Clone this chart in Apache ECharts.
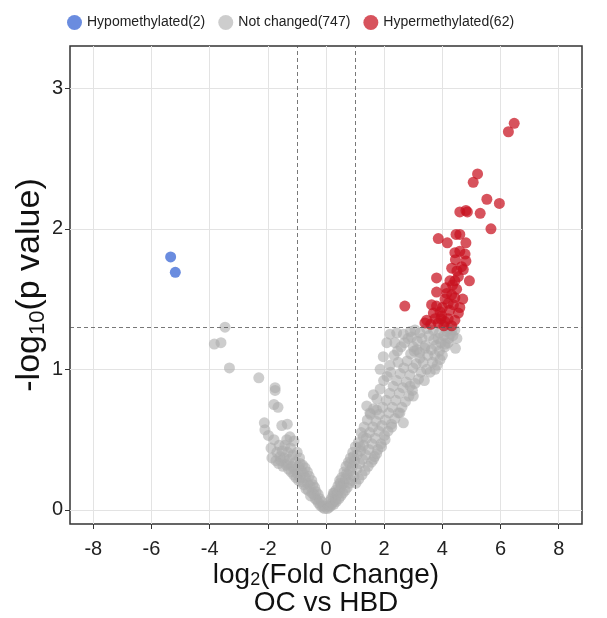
<!DOCTYPE html>
<html>
<head>
<meta charset="utf-8">
<script src="https://cdn.jsdelivr.net/npm/echarts@6/dist/echarts.min.js"></script>
<style>html,body{margin:0;padding:0;background:#fff}#c{width:607px;height:618px}</style>
</head>
<body>
<div id="c"></div>
<script>
// ---- data ----
const seriesNames = ['Hypomethylated(2)', 'Not changed(747)', 'Hypermethylated(62)'];
const xTicks = [-8, -6, -4, -2, 0, 2, 4, 6, 8];
const yTicks = [0, 1, 2, 3];
const fcCut = [-1, 1];
const pCut = 1.301;

const hypoPoints = [[-5.34, 1.80], [-5.18, 1.69]];

const hyperPoints = [
  [6.47,2.75],[6.27,2.69],[5.21,2.39],[5.06,2.33],[5.53,2.21],[5.96,2.18],[4.60,2.12],[4.81,2.13],
  [4.86,2.12],[5.30,2.11],[5.67,2.00],[3.86,1.93],[4.17,1.90],[4.47,1.96],[4.60,1.96],[4.81,1.90],
  [4.43,1.83],[4.60,1.84],[4.78,1.82],[4.81,1.77],[4.32,1.72],[4.66,1.73],[4.72,1.71],[3.80,1.65],
  [4.26,1.63],[4.43,1.63],[4.55,1.66],[4.93,1.63],[3.80,1.55],[4.15,1.54],[4.32,1.53],[4.49,1.57],
  [4.43,1.51],[3.63,1.46],[3.80,1.45],[4.09,1.50],[4.20,1.47],[4.60,1.44],[4.55,1.40],[2.71,1.45],
  [3.92,1.41],[3.98,1.38],[3.69,1.40],[3.46,1.35],[3.40,1.33],[3.86,1.33],[4.09,1.34],[4.32,1.31],
  [4.43,1.35],[4.00,1.44],[4.25,1.42],[4.38,1.46],[4.12,1.58],[4.35,1.60],[4.50,1.70],[3.95,1.36],
  [3.60,1.32],[4.20,1.36],[4.05,1.31],[4.70,1.50],[4.45,1.78],[3.75,1.36]
];

const grayLeft = [
  [-3.47,1.30],[-3.61,1.19],[-3.84,1.18],[-3.32,1.01],[-2.31,0.94],[-1.75,0.87],[-1.75,0.85],[-1.79,0.75],
  [-1.65,0.73],[-2.12,0.62],[-2.10,0.57],[-1.52,0.60],[-1.33,0.61],[-1.98,0.53],[-1.79,0.50],[-1.89,0.44],
  [-1.35,0.50],[-1.24,0.52],[-1.10,0.49],[-1.72,0.35],[-1.58,0.38],[-1.33,0.33],[-0.99,0.41],[-0.89,0.33],
  [-0.05,0.01],[-0.09,0.03],[-0.12,0.02],[-0.16,0.06],[-0.19,0.03],[-0.22,0.08],[-0.26,0.05],[-0.27,0.11],
  [-0.32,0.07],[-0.34,0.13],[-0.37,0.08],[-0.39,0.16],[-0.42,0.11],[-0.45,0.18],[-0.48,0.12],[-0.49,0.21],
  [-0.53,0.10],[-0.55,0.17],[-0.58,0.24],[-0.61,0.14],[-0.63,0.19],[-0.64,0.27],[-0.69,0.15],[-0.71,0.23],
  [-0.72,0.30],[-0.77,0.18],[-0.79,0.26],[-0.81,0.32],[-0.84,0.20],[-0.86,0.28],[-0.89,0.23],[-0.91,0.37],
  [-0.94,0.21],[-0.96,0.31],[-0.99,0.26],[-1.03,0.23],[-1.05,0.34],[-1.08,0.29],[-1.11,0.25],[-1.14,0.39],
  [-1.17,0.31],[-1.20,0.27],[-1.22,0.44],[-1.26,0.36],[-1.29,0.29],[-1.32,0.41],[-1.37,0.32],[-1.41,0.46],
  [-1.45,0.37],[-1.48,0.31],[-1.51,0.42],[-1.56,0.35],[-1.61,0.46],[-1.63,0.33],[-1.69,0.41],[-1.86,0.37]
];

const grayRight = [
  [2.20,1.25],[2.43,1.26],[2.66,1.25],[2.09,1.19],[2.37,1.19],[3.06,1.28],[3.23,1.26],[3.46,1.29],
  [3.69,1.28],[1.97,1.09],[1.86,1.00],[2.20,1.03],[2.48,1.05],[3.00,1.16],[3.12,1.14],[3.23,1.08],
  [3.40,1.15],[3.92,1.07],[3.75,1.00],[4.09,1.16],[1.63,0.82],[1.40,0.74],[1.51,0.69],[1.74,0.71],
  [3.00,0.81],[2.89,0.88],[2.54,0.69],[2.66,0.62],[2.26,0.59],[2.03,0.50],[1.91,0.45],[1.74,0.40],
  [1.63,0.36],[1.28,0.52],[1.17,0.45],[0.94,0.38],[0.82,0.33],[0.71,0.26],[0.48,0.19],[0.25,0.12],
  [4.33,1.28],[4.20,1.19],[4.43,1.28],[2.90,1.27],[3.90,1.26],[4.20,1.29],[4.45,1.15],[4.50,1.22],
  [0.05,0.01],[0.08,0.03],[0.12,0.02],[0.13,0.06],[0.17,0.03],[0.18,0.08],[0.22,0.05],[0.24,0.10],
  [0.27,0.04],[0.28,0.12],[0.32,0.07],[0.34,0.14],[0.35,0.06],[0.39,0.11],[0.41,0.17],[0.44,0.08],
  [0.46,0.14],[0.47,0.21],[0.51,0.10],[0.53,0.17],[0.54,0.23],[0.58,0.12],[0.61,0.19],[0.62,0.27],
  [0.66,0.14],[0.68,0.22],[0.69,0.31],[0.73,0.16],[0.76,0.25],[0.77,0.34],[0.81,0.19],[0.83,0.28],
  [0.84,0.37],[0.88,0.21],[0.91,0.31],[0.92,0.41],[0.96,0.24],[0.98,0.35],[1.01,0.45],
  [1.03,0.19],[1.06,0.29],[1.07,0.39],[1.11,0.48],[1.13,0.22],[1.16,0.33],[1.19,0.42],[1.21,0.55],
  [1.24,0.25],[1.26,0.36],[1.29,0.46],[1.31,0.59],[1.34,0.28],[1.37,0.39],[1.39,0.51],[1.42,0.64],
  [1.45,0.31],[1.47,0.43],[1.50,0.55],[1.53,0.68],[1.56,0.34],[1.58,0.47],[1.61,0.59],[1.64,0.72],
  [1.67,0.38],[1.69,0.51],[1.72,0.63],[1.75,0.79],[1.78,0.43],[1.81,0.56],[1.83,0.68],[1.86,0.86],
  [1.89,0.47],[1.92,0.60],[1.95,0.73],[1.98,0.92],[2.01,0.53],
  [2.04,0.64],[2.07,0.78],[2.10,0.95],[2.13,0.56],[2.16,0.69],[2.19,0.83],[2.22,0.98],[2.25,0.61],
  [2.28,0.73],[2.31,0.88],[2.34,1.10],[2.37,0.65],[2.40,0.78],[2.43,0.92],[2.46,1.13],[2.49,0.69],
  [2.52,0.83],[2.55,0.97],[2.58,1.16],[2.61,0.73],[2.64,0.87],[2.67,1.01],[2.70,1.19],[2.73,0.77],
  [2.76,0.91],[2.79,1.06],[2.82,1.22],[2.85,0.81],[2.88,0.96],[2.91,1.11],[2.94,1.23],[2.97,0.85],
  [2.99,1.01],
  [3.03,1.13],[3.06,0.90],[3.10,1.04],[3.14,1.20],[3.18,0.93],[3.22,1.12],[3.26,0.98],[3.30,1.22],
  [3.34,1.05],[3.38,0.92],[3.42,1.17],[3.46,1.00],[3.50,1.10],[3.54,1.24],[3.58,0.98],[3.62,1.14],
  [3.66,1.05],[3.70,1.21],[3.74,1.10],[3.78,1.17],[3.82,1.03],[3.86,1.22],[3.90,1.13],[3.95,1.19],
  [4.00,1.10],[4.05,1.24],[4.10,1.18],[4.15,1.27],[4.22,1.22],[4.28,1.25],[4.36,1.24]
];

const grayPoints = grayLeft.concat(grayRight);

// ---- chart ----
const FONT = '"Liberation Sans", Arial, sans-serif';
const chart = echarts.init(document.getElementById('c'), null, {renderer: 'canvas'});

const baseSeries = {
  type: 'scatter',
  symbol: 'circle',
  symbolSize: 11,
  emphasis: {disabled: true},
  animation: false
};

chart.setOption({
  backgroundColor: '#ffffff',
  animation: false,
  textStyle: {fontFamily: FONT},
  legend: {
    left: 62,
    top: 10,
    icon: 'circle',
    itemWidth: 15,
    itemHeight: 15,
    itemGap: 13,
    textStyle: {fontSize: 14, color: '#222', fontFamily: FONT},
    data: seriesNames
  },
  grid: {
    left: 70, right: 25, top: 46, bottom: 94,
    outerBoundsMode: 'none',
    containLabel: false,
    show: true, borderColor: '#333', borderWidth: 1.5, backgroundColor: 'transparent'
  },
  xAxis: {
    type: 'value',
    min: -8.8, max: 8.8,
    splitNumber: 9,
    axisLine: {show: false, onZero: false},
    axisTick: {show: true, length: 5, lineStyle: {color: '#333'}, customValues: xTicks},
    axisLabel: {fontSize: 20, color: '#222', margin: 15, customValues: xTicks, fontFamily: FONT},
    splitLine: {show: true, lineStyle: {color: '#e3e3e3', width: 1}},
    name: '{n|log}{s|2}{n|(Fold Change)}\n{n|OC vs HBD}',
    nameLocation: 'middle',
    nameMoveOverlap: false,
    nameGap: 37,
    nameTextStyle: {
      color: '#111',
      rich: {
        n: {fontSize: 28, lineHeight: 28, color: '#111', fontFamily: FONT},
        s: {fontSize: 18, lineHeight: 12, verticalAlign: 'bottom', color: '#111', fontFamily: FONT}
      }
    }
  },
  yAxis: {
    type: 'value',
    min: -0.1, max: 3.3,
    splitNumber: 4,
    axisLine: {show: false, onZero: false},
    axisTick: {show: true, length: 5, lineStyle: {color: '#333'}, customValues: yTicks},
    axisLabel: {fontSize: 20, color: '#222', margin: 7, customValues: yTicks, fontFamily: FONT},
    splitLine: {show: true, lineStyle: {color: '#e3e3e3', width: 1}},
    name: '{n|-log}{s|10}{n|(p value)}',
    nameLocation: 'middle',
    nameMoveOverlap: false,
    nameGap: 21,
    nameTextStyle: {
      color: '#111',
      rich: {
        n: {fontSize: 34, lineHeight: 38, color: '#111', fontFamily: FONT},
        s: {fontSize: 22, lineHeight: 16, verticalAlign: 'bottom', color: '#111', fontFamily: FONT}
      }
    }
  },
  series: [
    Object.assign({}, baseSeries, {
      name: seriesNames[0],
      data: hypoPoints,
      z: 3,
      itemStyle: {color: '#5a7fdb', opacity: 0.9}
    }),
    Object.assign({}, baseSeries, {
      name: seriesNames[1],
      data: grayPoints,
      z: 2,
      itemStyle: {color: '#ababab', opacity: 0.6}
    }),
    Object.assign({}, baseSeries, {
      name: seriesNames[2],
      data: hyperPoints,
      z: 3,
      itemStyle: {color: '#c8101e', opacity: 0.72},
      markLine: {
        silent: true,
        symbol: ['none', 'none'],
        label: {show: false},
        animation: false,
        z: 10,
        lineStyle: {color: '#555', width: 0.8, type: [4, 3]},
        data: [{xAxis: fcCut[0]}, {xAxis: fcCut[1]}, {yAxis: pCut}]
      }
    })
  ]
});
</script>
</body>
</html>
